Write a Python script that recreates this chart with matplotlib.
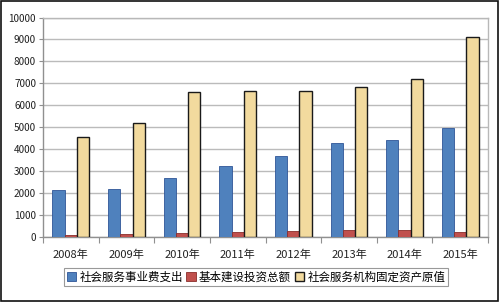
import matplotlib
matplotlib.use("Agg")
import matplotlib.pyplot as plt
import numpy as np
from matplotlib.patches import Rectangle

plt.rcParams['font.family'] = ['Noto Sans CJK SC', 'DejaVu Sans']

years = ["2008年", "2009年", "2010年", "2011年", "2012年", "2013年", "2014年", "2015年"]
series_names = ["社会服务事业费支出", "基本建设投资总额", "社会服务机构固定资产原值"]
expenditure = [2140, 2170, 2700, 3230, 3690, 4295, 4415, 4960]
investment = [75, 150, 180, 210, 270, 300, 300, 240]
fixed_assets = [4580, 5175, 6585, 6675, 6675, 6815, 7220, 9090]
yticks = [0, 1000, 2000, 3000, 4000, 5000, 6000, 7000, 8000, 9000, 10000]

fig = plt.figure(figsize=(5.0, 3.02), dpi=100)
ax = fig.add_axes([0.086, 0.215, 0.89, 0.727])

x = np.arange(len(years))
w = 0.22
ax.bar(x - w, expenditure, w, color="#4F81BD", edgecolor="#2F5597", linewidth=0.6, zorder=3, label=series_names[0])
ax.bar(x, investment, w, color="#C0504D", edgecolor="#8B2E2B", linewidth=0.6, zorder=3, label=series_names[1])
ax.bar(x + w, fixed_assets, w, color="#F2DA9E", edgecolor="#1a1a1a", linewidth=1.0, zorder=3, label=series_names[2])

ax.set_xlim(-0.5, len(years) - 0.5)
ax.set_ylim(0, 10000)
ax.set_yticks(yticks)
ax.set_yticklabels([str(v) for v in yticks], fontsize=7.2, color="#222222")
ax.yaxis.grid(True, color="#BBBBBB", linewidth=1.0, zorder=0)
ax.set_axisbelow(True)

ax.set_xticks(x)
ax.set_xticklabels(years, fontsize=8, color="#222222")
ax.tick_params(axis='x', length=0, pad=9)
ax.set_xticks(np.arange(-0.5, len(years)), minor=True)
ax.tick_params(axis='x', which='minor', length=4, color="#909090", width=0.8)
ax.tick_params(axis='y', length=3, color="#909090", width=0.8, pad=2)

for side in ['top', 'right']:
    ax.spines[side].set_color("#B8B8B8")
    ax.spines[side].set_linewidth(1.0)
for side in ['left', 'bottom']:
    ax.spines[side].set_color("#909090")
    ax.spines[side].set_linewidth(1.0)

leg = fig.legend(loc='center', bbox_to_anchor=(0.512, 0.083), ncol=3, fontsize=8.3,
                 frameon=True, fancybox=False, edgecolor="#808080", handlelength=0.8,
                 handleheight=0.8, handletextpad=0.3, columnspacing=0.3, borderpad=0.25,
                 borderaxespad=0)
leg.get_frame().set_linewidth(0.8)

fig.patches.append(Rectangle((0.002, 0.003), 0.994, 0.994, transform=fig.transFigure,
                             fill=False, edgecolor="#111111", linewidth=1.2))

fig.savefig("out.png", dpi=100)
